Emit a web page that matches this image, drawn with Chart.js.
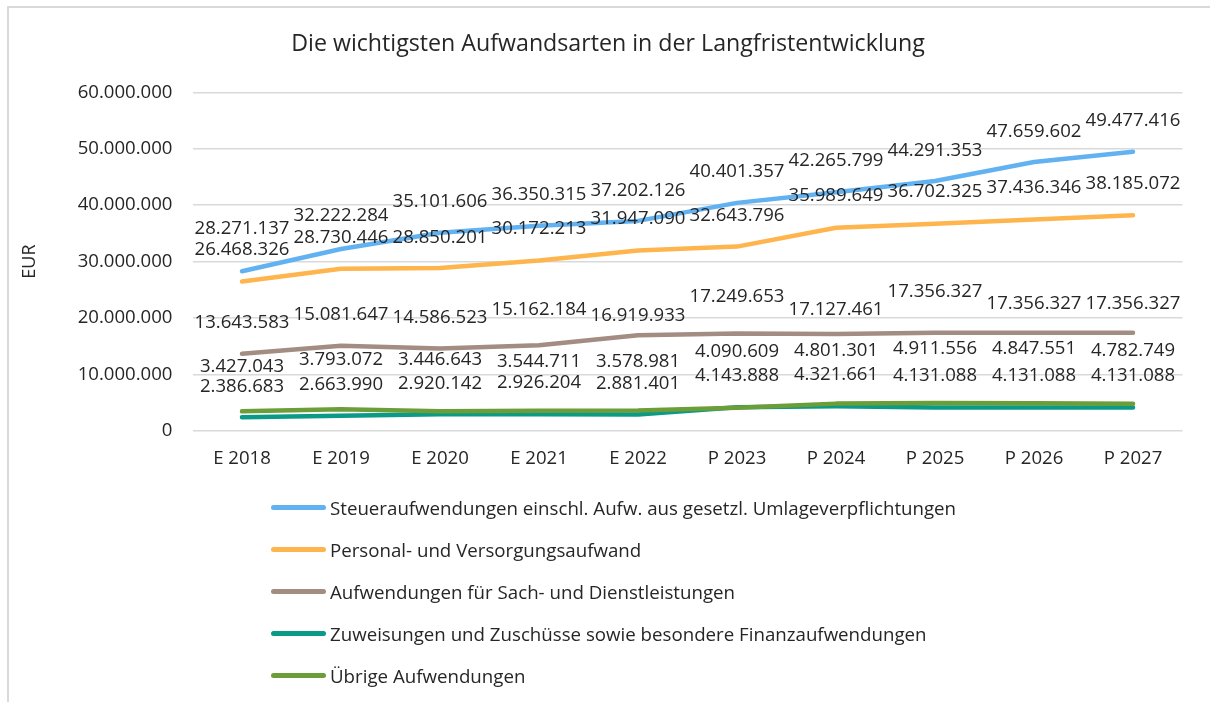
<!DOCTYPE html>
<html>
<head>
<meta charset="utf-8">
<script src="https://cdn.jsdelivr.net/npm/chart.js@4.4.1/dist/chart.umd.min.js"></script>
<style>
  html, body { margin: 0; padding: 0; background: #fff; }
  #wrap { position: relative; width: 1210px; height: 702px; overflow: hidden; background: #fff; font-family: "Open Sans", sans-serif; }
  #frame { position: absolute; left: 7px; top: 6px; width: 1300px; height: 800px; border-left: 2px solid #d9d9d9; border-top: 2px solid #d9d9d9; }
  #c { position: absolute; left: 0; top: 0; }
  #legend { position: absolute; left: 271px; top: 486px; }
  .item { position: relative; height: 42px; display: flex; align-items: center; }
  .swatch { width: 55px; height: 5px; border-radius: 3px; margin-right: 4px; }
  .lbl { font-size: 18.7px; color: #262626; white-space: nowrap; }
</style>
</head>
<body>
<div id="wrap">
  <div id="frame"></div>
  <canvas id="c" width="1210" height="487"></canvas>
  <div id="legend"></div>
</div>
<script>
const categories = ["E 2018", "E 2019", "E 2020", "E 2021", "E 2022", "P 2023", "P 2024", "P 2025", "P 2026", "P 2027"];

const steuer = [28271137, 32222284, 35101606, 36350315, 37202126, 40401357, 42265799, 44291353, 47659602, 49477416];
const personal = [26468326, 28730446, 28850201, 30172213, 31947090, 32643796, 35989649, 36702325, 37436346, 38185072];
const sach = [13643583, 15081647, 14586523, 15162184, 16919933, 17249653, 17127461, 17356327, 17356327, 17356327];
const zuweisungen = [2386683, 2663990, 2920142, 2926204, 2881401, 4143888, 4321661, 4131088, 4131088, 4131088];
const uebrige = [3427043, 3793072, 3446643, 3544711, 3578981, 4090609, 4801301, 4911556, 4847551, 4782749];

const seriesNames = [
  "Steueraufwendungen einschl. Aufw. aus gesetzl. Umlageverpflichtungen",
  "Personal- und Versorgungsaufwand",
  "Aufwendungen für Sach- und Dienstleistungen",
  "Zuweisungen und Zuschüsse sowie besondere Finanzaufwendungen",
  "Übrige Aufwendungen"
];
const yTickValues = [0, 10000000, 20000000, 30000000, 40000000, 50000000, 60000000];

const colors = ["#62B2F2", "#FFB54D", "#A38C82", "#0A9A87", "#6B9E38"];

// vertical pixel offsets of the value labels above their points (label placement only)
const labelOffsets = [
  [-43, -33, -31, -31, -30, -31, -32, -30, -30, -31],
  [-32, -31, -30, -32, -32, -31, -32, -32, -32, -32],
  [-31, -31, -31, -35, -20, -37, -24, -41, -29, -29],
  [-31, -31, -31, -31, -31, -32, -32, -32, -32, -32],
  [-45, -50, -52, -49, -49, -56, -53, -54, -55, -53]
];

function fmt(v) {
  return String(Math.round(v)).replace(/\B(?=(\d{3})+(?!\d))/g, ".");
}

const FONT = "'Open Sans', sans-serif";
const TEXT = "#262626";

const allSeries = [steuer, personal, sach, zuweisungen, uebrige];
const datasets = allSeries.map((d, i) => ({
  label: seriesNames[i],
  data: d,
  borderColor: colors[i],
  backgroundColor: colors[i],
  borderWidth: 4.5,
  borderCapStyle: "round",
  borderJoinStyle: "round",
  pointRadius: 0,
  pointHoverRadius: 0,
  tension: 0,
  fill: false,
  order: 5 - i
}));

const labelPlugin = {
  id: "valueLabels",
  afterDatasetsDraw(chart) {
    const ctx = chart.ctx;
    ctx.save();
    ctx.font = "18.6px " + FONT;
    ctx.fillStyle = TEXT;
    ctx.textAlign = "center";
    ctx.textBaseline = "middle";
    chart.data.datasets.forEach((ds, i) => {
      const meta = chart.getDatasetMeta(i);
      meta.data.forEach((pt, j) => {
        ctx.fillText(fmt(ds.data[j]), pt.x, pt.y + labelOffsets[i][j]);
      });
    });
    ctx.restore();
  }
};

new Chart(document.getElementById("c"), {
  type: "line",
  data: { labels: categories, datasets },
  plugins: [labelPlugin],
  options: {
    responsive: false,
    animation: false,
    devicePixelRatio: 1,
    layout: { padding: { left: 6, right: 0, top: 0, bottom: 0 } },
    plugins: {
      legend: { display: false },
      tooltip: { enabled: false },
      title: {
        display: true,
        text: "Die wichtigsten Aufwandsarten in der Langfristentwicklung",
        color: TEXT,
        font: { family: FONT, size: 23.2, weight: "normal", lineHeight: 1.2 },
        padding: { top: 30, bottom: 34.5 }
      }
    },
    scales: {
      x: {
        offset: true,
        grid: { display: false, drawTicks: false },
        border: { display: false },
        ticks: { color: TEXT, font: { family: FONT, size: 18.6 }, padding: 17, maxRotation: 0, autoSkip: false },
        afterFit(s) { s.height = 56.3; }
      },
      y: {
        min: 0,
        max: 60000000,
        afterBuildTicks(s) { s.ticks = yTickValues.map(v => ({ value: v })); },
        grid: { color: "#d9d9d9", lineWidth: 1.5, drawTicks: false },
        border: { display: false },
        ticks: { color: TEXT, font: { family: FONT, size: 18.6 }, padding: 20, callback: v => fmt(v) },
        title: { display: true, text: "EUR", color: TEXT, font: { family: FONT, size: 18 }, padding: { top: 13, bottom: 0 } },
        afterFit(s) { s.width = 186.5; }
      },
      yRight: {
        position: "right",
        display: true,
        min: 0,
        max: 1,
        grid: { display: false, drawTicks: false },
        border: { display: false },
        ticks: { display: false },
        afterFit(s) { s.width = 27.5; }
      }
    }
  }
});

const legend = document.getElementById("legend");
seriesNames.forEach((name, i) => {
  const item = document.createElement("div");
  item.className = "item";
  const sw = document.createElement("div");
  sw.className = "swatch";
  sw.style.background = colors[i];
  const t = document.createElement("span");
  t.className = "lbl";
  t.textContent = name;
  item.appendChild(sw);
  item.appendChild(t);
  legend.appendChild(item);
});
</script>
</body>
</html>
